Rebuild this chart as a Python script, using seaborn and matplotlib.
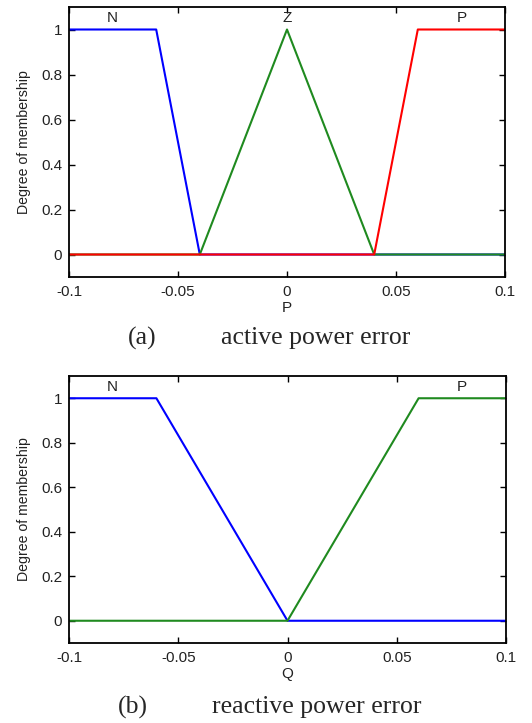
import numpy as np
import pandas as pd
import matplotlib
matplotlib.use("Agg")
import matplotlib.pyplot as plt
import seaborn as sns

# ---- data ----
p_x_N = [-0.1, -0.06, -0.04, 0.1]
p_y_N = [1, 1, 0, 0]
p_x_Z = [-0.1, -0.04, 0.0, 0.04, 0.1]
p_y_Z = [0, 0, 1, 0, 0]
p_x_P = [-0.1, 0.04, 0.06, 0.1]
p_y_P = [0, 0, 1, 1]

q_x_N = [-0.1, -0.06, 0.0, 0.1]
q_y_N = [1, 1, 0, 0]
q_x_P = [-0.1, 0.0, 0.06, 0.1]
q_y_P = [0, 0, 1, 1]

x_ticks = [-0.1, -0.05, 0, 0.05, 0.1]
x_tick_labels = ["-0.1", "-0.05", "0", "0.05", "0.1"]
y_ticks = [0, 0.2, 0.4, 0.6, 0.8, 1]
y_tick_labels = ["0", "0.2", "0.4", "0.6", "0.8", "1"]

sns.set_style("ticks")
plt.rcParams["font.family"] = ["Liberation Sans", "DejaVu Sans"]

BLUE = "#0000ff"
GREEN = "#1f8a1f"
RED = "#ff0000"
TXT = "#222222"

fig = plt.figure(figsize=(5.32, 7.23), dpi=100)

def style_axes(ax, xlabel):
    ax.set_xlim(-0.1, 0.1)
    ax.set_ylim(-0.1, 1.1)
    ax.set_xticks(x_ticks)
    ax.set_xticklabels(x_tick_labels)
    ax.set_yticks(y_ticks)
    ax.set_yticklabels(y_tick_labels)
    ax.tick_params(direction="in", top=True, right=True, length=4, width=1,
                   labelsize=11, colors="black", labelcolor=TXT)
    ax.tick_params(axis="x", pad=6)
    ax.tick_params(axis="y", pad=5)
    for s in ax.spines.values():
        s.set_visible(True)
        s.set_linewidth(1.3)
        s.set_color("black")
    ax.set_xlabel(xlabel, fontsize=11, labelpad=1, color=TXT)
    ax.set_ylabel("Degree of membership", fontsize=10.2, labelpad=7, color=TXT)
    ax.grid(False)
    ax.set_facecolor("white")

# top panel
ax1 = fig.add_axes([69/532, 1-277/723, 436/532, 270/723])
for xs, ys, c in [(p_x_N, p_y_N, BLUE), (p_x_Z, p_y_Z, GREEN), (p_x_P, p_y_P, RED)]:
    df = pd.DataFrame({"x": xs, "y": ys})
    sns.lineplot(data=df, x="x", y="y", sort=False, color=c, lw=1.5, ax=ax1, estimator=None)
style_axes(ax1, "P")
for lab, xv in [("N", -0.08), ("Z", 0.0), ("P", 0.08)]:
    ax1.text(xv, 1.05, lab, ha="center", va="center", fontsize=11, color=TXT)

# bottom panel
ax2 = fig.add_axes([69/532, 1-643/723, 437/532, 267/723])
for xs, ys, c in [(q_x_N, q_y_N, BLUE), (q_x_P, q_y_P, GREEN)]:
    df = pd.DataFrame({"x": xs, "y": ys})
    sns.lineplot(data=df, x="x", y="y", sort=False, color=c, lw=1.5, ax=ax2, estimator=None)
style_axes(ax2, "Q")
for lab, xv in [("N", -0.08), ("P", 0.08)]:
    ax2.text(xv, 1.05, lab, ha="center", va="center", fontsize=11, color=TXT)

serif = ["Liberation Serif", "DejaVu Serif"]
fig.text(142/532, 1-338/723, "(a)", ha="center", va="center", fontsize=18.5, family=serif)
fig.text(316/532, 1-338/723, "active power error", ha="center", va="center", fontsize=18.5, family=serif)
fig.text(133/532, 1-707/723, "(b)", ha="center", va="center", fontsize=18.5, family=serif)
fig.text(317/532, 1-707/723, "reactive power error", ha="center", va="center", fontsize=18.5, family=serif)

fig.savefig("out.png", dpi=100, facecolor="white")
